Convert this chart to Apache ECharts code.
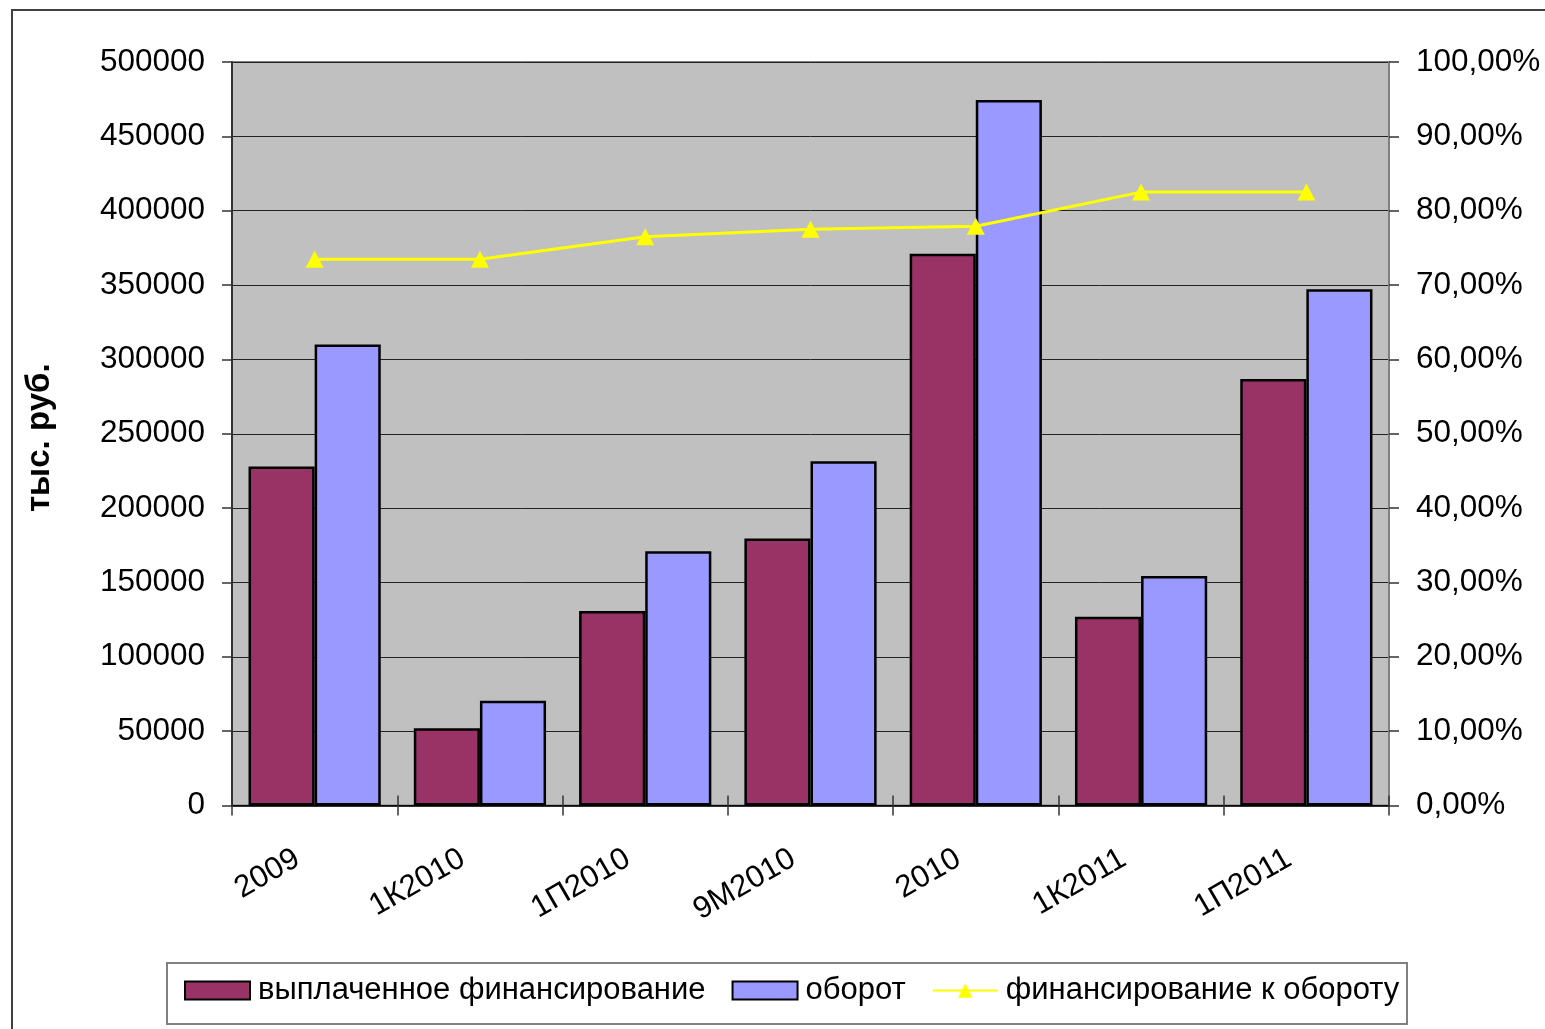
<!DOCTYPE html>
<html>
<head>
<meta charset="utf-8">
<script src="https://cdn.jsdelivr.net/npm/echarts@6/dist/echarts.min.js"></script>
<style>
  html, body { margin: 0; padding: 0; background: #fff; }
  #chart { width: 1545px; height: 1029px; }
</style>
</head>
<body>
<div id="chart"></div>
<script>
// Periods on the category axis
const periods = ['2009', '1К2010', '1П2010', '9М2010', '2010', '1К2011', '1П2011'];
// Paid-out financing, thousand roubles
const paidFinancing = [228000, 52000, 130800, 179500, 371000, 127000, 286800];
// Turnover, thousand roubles
const turnover = [310000, 70500, 171000, 231500, 474500, 154300, 347100];
// Financing to turnover ratio
const financingRatio = [0.7346, 0.7346, 0.7650, 0.7750, 0.7790, 0.8250, 0.8250];

// Value axis ticks
const leftTicks = { min: 0, max: 500000, interval: 50000 };
const rightTicks = { min: 0, max: 1, interval: 0.1 };

const FONT = '"Liberation Sans", Arial, sans-serif';

const chart = echarts.init(document.getElementById('chart'), null, { renderer: 'canvas' });

const pctLabel = v => (v * 100).toFixed(2).replace('.', ',') + '%';
const plainLabel = v => String(Math.round(v));

chart.setOption({
  animation: false,
  backgroundColor: '#ffffff',
  textStyle: { fontFamily: FONT, color: '#000' },
  graphic: [
    {
      type: 'rect',
      z: -10,
      shape: { x: 12, y: 10, width: 1600, height: 1100 },
      style: { fill: 'none', stroke: '#404040', lineWidth: 2 }
    },
    {
      type: 'rect',
      z: -5,
      shape: { x: 167, y: 963, width: 1240, height: 61 },
      style: { fill: '#ffffff', stroke: '#808080', lineWidth: 2 }
    }
  ],
  grid: {
    left: 232,
    top: 62,
    right: 156,
    bottom: 223.5,
    show: true,
    backgroundColor: '#C0C0C0',
    borderColor: '#808080',
    borderWidth: 2
  },
  legend: {
    left: 184,
    top: 975,
    itemWidth: 65,
    itemHeight: 18,
    itemGap: 26,
    padding: 0,
    textStyle: { fontFamily: FONT, fontSize: 31, color: '#000', padding: [0, 0, 0, 3] },
    data: [
      { name: 'выплаченное финансирование', icon: 'rect' },
      { name: 'оборот', icon: 'rect' },
      { name: 'финансирование к обороту' }
    ]
  },
  xAxis: [
    {
      type: 'category',
      data: periods,
      boundaryGap: true,
      axisLine: { show: true, lineStyle: { color: '#000', width: 1.5 } },
      axisTick: { show: true, length: 10, lineStyle: { color: '#333', width: 1.5 } },
      axisLabel: {
        interval: 0,
        rotate: 30,
        margin: 41,
        fontSize: 31,
        fontFamily: FONT,
        color: '#000',
        padding: [0, 20, 0, 0]
      }
    },
    {
      type: 'category',
      data: periods,
      position: 'bottom',
      boundaryGap: true,
      axisLine: { show: false },
      axisTick: { show: true, inside: true, length: 10, lineStyle: { color: '#333', width: 1.5 } },
      axisLabel: { show: false },
      splitLine: { show: false }
    }
  ],
  yAxis: [
    {
      type: 'value',
      min: leftTicks.min,
      max: leftTicks.max,
      interval: leftTicks.interval,
      name: 'тыс. руб.',
      nameLocation: 'middle',
      nameGap: 176,
      nameRotate: 90,
      nameTextStyle: { fontFamily: FONT, fontSize: 33, fontWeight: 'bold', color: '#000', padding: [0, 8, 0, 0] },
      axisLine: { show: true, lineStyle: { color: '#333', width: 2 } },
      axisTick: { show: true, length: 10, lineStyle: { color: '#333', width: 1.5 } },
      axisLabel: { margin: 27, fontSize: 31.5, fontFamily: FONT, color: '#000', formatter: plainLabel },
      splitLine: { show: true, lineStyle: { color: '#222', width: 1 } }
    },
    {
      type: 'value',
      position: 'right',
      min: rightTicks.min,
      max: rightTicks.max,
      interval: rightTicks.interval,
      axisLine: { show: true, lineStyle: { color: '#808080', width: 2 } },
      axisTick: { show: true, length: 10, lineStyle: { color: '#333', width: 1.5 } },
      axisLabel: { margin: 27, fontSize: 31.5, fontFamily: FONT, color: '#000', formatter: pctLabel },
      splitLine: { show: false }
    }
  ],
  series: [
    {
      name: 'выплаченное финансирование',
      type: 'bar',
      xAxisIndex: 0,
      yAxisIndex: 0,
      data: paidFinancing,
      barGap: '0%',
      barCategoryGap: '20%',
      itemStyle: { color: '#993366', borderColor: '#000', borderWidth: 2.5 }
    },
    {
      name: 'оборот',
      type: 'bar',
      xAxisIndex: 0,
      yAxisIndex: 0,
      data: turnover,
      barGap: '0%',
      barCategoryGap: '20%',
      itemStyle: { color: '#9999FF', borderColor: '#000', borderWidth: 2.5 }
    },
    {
      name: 'финансирование к обороту',
      type: 'line',
      xAxisIndex: 0,
      yAxisIndex: 1,
      data: financingRatio,
      symbol: 'triangle',
      symbolSize: [18, 17],
      lineStyle: { color: '#FFFF00', width: 3 },
      itemStyle: { color: '#FFFF00' },
      z: 5
    }
  ]
});
</script>
</body>
</html>
